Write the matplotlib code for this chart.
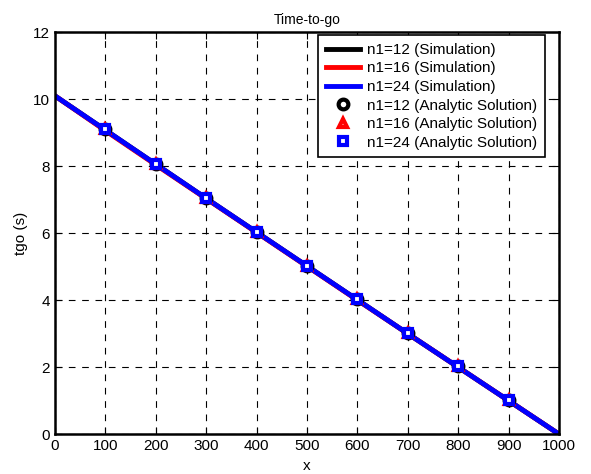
import numpy as np
import matplotlib.pyplot as plt

plt.rcParams['font.family'] = ['Liberation Sans', 'DejaVu Sans']

# simulation curves (x, tgo)
x_sim = [0, 100, 200, 300, 400, 500, 600, 700, 800, 900, 1000]
tgo_n12 = [10.1, 9.08, 8.06, 7.04, 6.03, 5.02, 4.01, 3.0, 2.0, 1.0, 0.0]
tgo_n16 = [10.1, 9.06, 8.04, 7.03, 6.02, 5.01, 4.0, 3.0, 2.0, 1.0, 0.0]
tgo_n24 = [10.1, 9.08, 8.06, 7.04, 6.03, 5.02, 4.01, 3.0, 2.0, 1.0, 0.0]

# analytic solution points
x_ana = [100, 200, 300, 400, 500, 600, 700, 800, 900]
ana_n12 = [9.1, 8.07, 7.05, 6.05, 5.03, 4.03, 3.02, 2.03, 1.03]
ana_n16 = [9.1, 8.07, 7.05, 6.05, 5.03, 4.03, 3.02, 2.03, 1.03]
ana_n24 = [9.1, 8.07, 7.05, 6.05, 5.03, 4.03, 3.02, 2.03, 1.03]

fig = plt.figure(figsize=(5.91, 4.74), dpi=100)
ax = fig.add_axes([0.093, 0.084, 0.853, 0.848])

ax.plot(x_sim, tgo_n12, color='k', lw=3.5, label='n1=12 (Simulation)')
ax.plot(x_sim, tgo_n16, color='r', lw=3.5, label='n1=16 (Simulation)')
ax.plot(x_sim, tgo_n24, color='b', lw=3.5, label='n1=24 (Simulation)')
ax.plot(x_ana, ana_n12, 'o', color='k', mfc='w', ms=7, mew=3,
        label='n1=12 (Analytic Solution)')
ax.plot(x_ana, ana_n16, '^', color='r', mfc='w', ms=6, mew=3,
        label='n1=16 (Analytic Solution)')
ax.plot(x_ana, ana_n24, 's', color='b', mfc='w', ms=6, mew=3,
        label='n1=24 (Analytic Solution)')

ax.set_xlim(0, 1000)
ax.set_ylim(0, 12)
ax.set_xticks(np.arange(0, 1001, 100))
ax.set_yticks(np.arange(0, 13, 2))
ax.grid(True, color='k', ls=(0, (6, 6)), lw=0.8)
ax.tick_params(direction='in', labelsize=11, length=5, top=True, right=True)
for s in ax.spines.values():
    s.set_linewidth(1.8)
ax.set_title('Time-to-go', fontsize=10, pad=6)
ax.set_xlabel('x', fontsize=11, labelpad=4)
ax.set_ylabel('tgo (s)', fontsize=11)

leg = ax.legend(loc='upper right', bbox_to_anchor=(0.972, 0.9925),
                borderaxespad=0, fontsize=11, fancybox=False, edgecolor='k',
                handlelength=2.2, handletextpad=0.5, labelspacing=0.3,
                borderpad=0.5, framealpha=1)
leg.get_frame().set_linewidth(1.2)

fig.savefig('out.png', dpi=100)
